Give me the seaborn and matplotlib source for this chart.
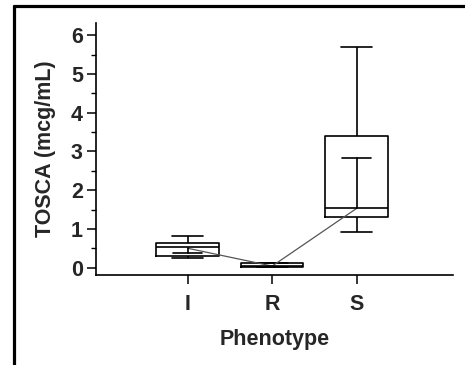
import matplotlib
matplotlib.use("Agg")
import matplotlib.pyplot as plt
from matplotlib.lines import Line2D
from matplotlib.ticker import MultipleLocator
import seaborn as sns
import pandas as pd

# Five-number summaries (min, Q1, median, Q3, max)
categories = ["I", "R", "S"]
summary_I = [0.24, 0.31, 0.53, 0.63, 0.82]
summary_R = [0.01, 0.01, 0.05, 0.11, 0.11]
summary_S = [0.91, 1.30, 1.55, 3.40, 5.70]
# Means and one-sided SD (direction: -1 down, +1 up)
means = [0.50, 0.04, 1.53]
sd = [0.13, 0.0, 1.30]
sd_dir = [-1, 1, 1]

rows = []
for cat, vals in zip(categories, [summary_I, summary_R, summary_S]):
    for v in vals:
        rows.append({"Phenotype": cat, "TOSCA": v})
df = pd.DataFrame(rows)

sns.set_style("white")
plt.rcParams["font.family"] = ["Liberation Sans", "DejaVu Sans"]

fig = plt.figure(figsize=(4.65, 3.65), dpi=100)
ax = fig.add_axes([0.2065, 0.2466, 0.7677, 0.690])

lw = 1.2
sns.boxplot(data=df, x="Phenotype", y="TOSCA", order=categories, ax=ax,
            whis=(0, 100), width=0.74, fill=False, color="black", linewidth=lw,
            showcaps=True, showfliers=False,
            medianprops=dict(color="black", linewidth=lw),
            whiskerprops=dict(color="black", linewidth=lw),
            capprops=dict(color="black", linewidth=lw),
            boxprops=dict(color="black", linewidth=lw))

# mean line
sns.lineplot(x=[0, 1, 2], y=means, ax=ax, color="#555555", linewidth=0.9,
             sort=False)

# one-sided SD bars
for i, (m, s, d) in enumerate(zip(means, sd, sd_dir)):
    if s <= 0:
        continue
    end = m + d * s
    ax.plot([i, i], [m, end], color="black", linewidth=lw)
    ax.plot([i - 0.17, i + 0.17], [end, end], color="black", linewidth=lw)

ax.set_xlim(-1.085, 3.14)
ax.set_ylim(-0.19, 6.31)
ax.yaxis.set_major_locator(MultipleLocator(1))
ax.yaxis.set_minor_locator(MultipleLocator(0.5))
sns.despine(ax=ax)
for sp in ["left", "bottom"]:
    ax.spines[sp].set_linewidth(1.2)
    ax.spines[sp].set_color("black")
fs = 15.5
ax.tick_params(axis="both", which="major", direction="out", length=6.5,
               width=1.1, color="black", labelsize=fs, bottom=True, left=True)
ax.tick_params(axis="y", which="major", pad=3)
ax.tick_params(axis="y", which="minor", direction="out", length=3.5,
               width=1.0, color="black", left=True)
ax.tick_params(axis="x", which="major", pad=7)
for lab in ax.get_xticklabels() + ax.get_yticklabels():
    lab.set_fontweight("bold")
ax.set_xlabel("Phenotype", fontsize=fs, fontweight="bold", labelpad=10)
ax.set_ylabel("TOSCA (mcg/mL)", fontsize=fs, fontweight="bold", labelpad=11)

# outer frame lines (left and top)
fig.add_artist(Line2D([14 / 465, 14 / 465], [0, 1 - 6 / 365],
                      transform=fig.transFigure, color="black", linewidth=2.3))
fig.add_artist(Line2D([14 / 465, 1], [1 - 6 / 365, 1 - 6 / 365],
                      transform=fig.transFigure, color="black", linewidth=2.3))

fig.savefig("out.png", dpi=100)
